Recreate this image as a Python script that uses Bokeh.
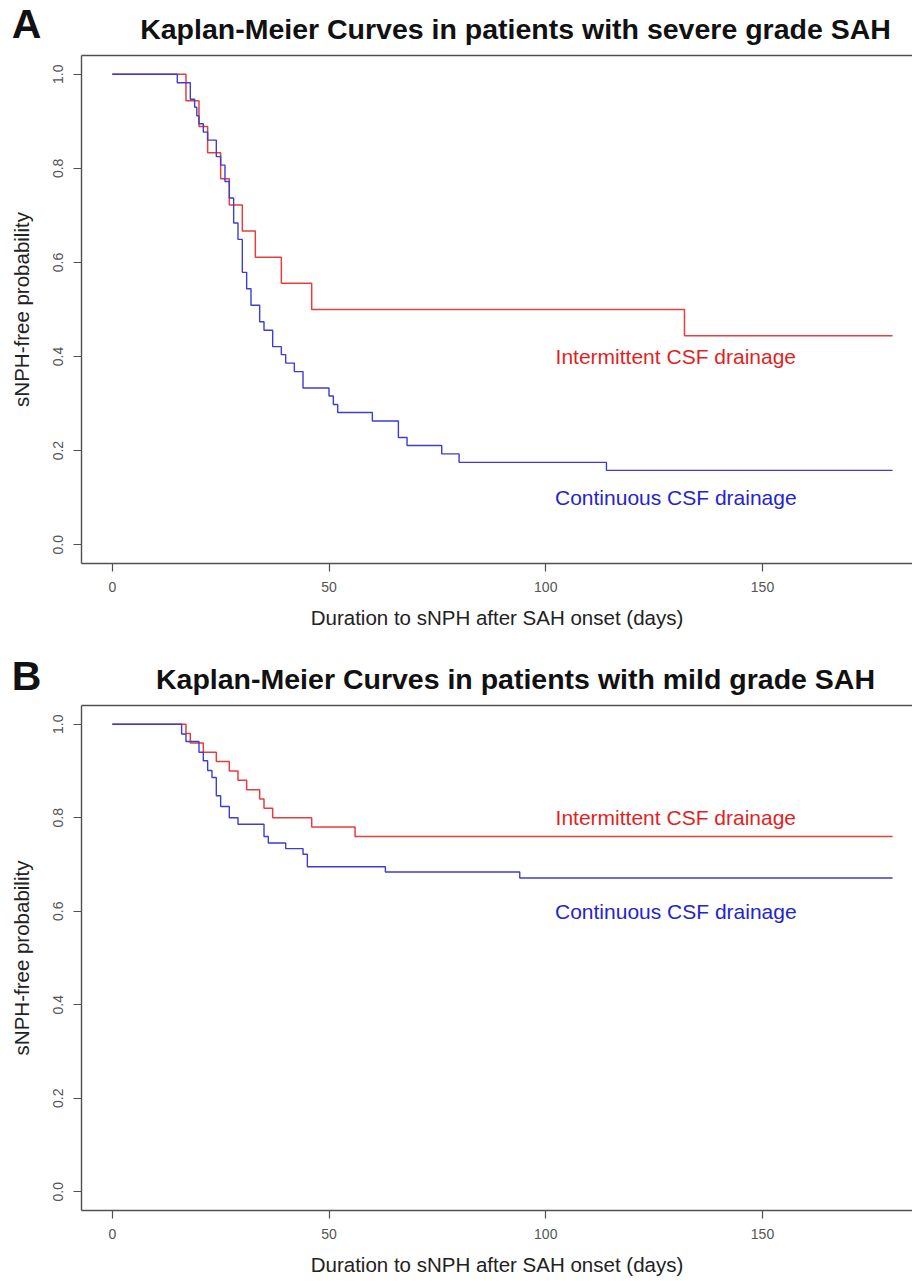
from bokeh.plotting import figure
from bokeh.models import Label, LinearAxis, FixedTicker, Range1d, PrintfTickFormatter
from bokeh.layouts import column
from bokeh.embed import file_html
from bokeh.resources import INLINE

# ---------------- data ----------------
# Panel A: severe grade SAH
a_int_days = [0, 17, 20, 22, 25, 27, 30, 33, 39, 46, 132, 180]
a_int_surv = [1.0, 0.944, 0.889, 0.833, 0.778, 0.722, 0.667, 0.611, 0.556, 0.500, 0.444, 0.444]

a_con_days = [0, 15, 18, 19, 19.5, 20, 21, 22, 24, 25, 26, 27, 28, 29, 30, 31, 32, 34, 35, 37,
              39, 40, 42, 44, 50, 51, 52, 60, 66, 68, 76, 80, 114, 180]
a_con_surv = [1.0, 0.982, 0.947, 0.930, 0.912, 0.895, 0.877, 0.860, 0.825, 0.807, 0.772, 0.737,
              0.684, 0.649, 0.579, 0.544, 0.509, 0.474, 0.456, 0.421, 0.404, 0.386, 0.368,
              0.333, 0.316, 0.298, 0.281, 0.263, 0.228, 0.211, 0.193, 0.175, 0.158, 0.158]

# Panel B: mild grade SAH
b_int_days = [0, 17, 18, 21, 24, 27, 29, 31, 34, 35, 37, 46, 56, 180]
b_int_surv = [1.0, 0.98, 0.96, 0.94, 0.92, 0.90, 0.88, 0.86, 0.84, 0.82, 0.80, 0.78, 0.76, 0.76]

b_con_days = [0, 16, 17, 20, 21, 22, 23, 24, 25, 27, 29, 35, 36, 40, 44, 45, 63, 94, 180]
b_con_surv = [1.0, 0.979, 0.963, 0.940, 0.922, 0.901, 0.886, 0.847, 0.824, 0.800, 0.786,
              0.760, 0.746, 0.734, 0.722, 0.695, 0.684, 0.671, 0.671]

x_ticks = [0, 50, 100, 150]
y_ticks = [0.0, 0.2, 0.4, 0.6, 0.8, 1.0]

panel_letters = ["A", "B"]
panel_titles = ["Kaplan-Meier Curves in patients with severe grade SAH",
                "Kaplan-Meier Curves in patients with mild grade SAH"]
x_title = "Duration to sNPH after SAH onset (days)"
y_title = "sNPH-free probability"
series_names = ["Intermittent CSF drainage", "Continuous CSF drainage"]
label_y_a = [0.40, 0.10]
label_y_b = [0.80, 0.60]

FONT = "Liberation Sans"
RED_LINE = "#e53e3e"
BLUE_LINE = "#3d3dd4"
RED_TEXT = "#e21f1f"
BLUE_TEXT = "#2424cf"
AX = "#505050"
W = 912


def make_header(letter, title, height, letter_y, title_y):
    h = figure(width=W, height=height, output_backend="svg", toolbar_location=None,
               x_range=Range1d(0, W), y_range=Range1d(height, 0),
               x_axis_type=None, y_axis_type=None,
               min_border=0, min_border_left=0, min_border_right=0,
               min_border_top=0, min_border_bottom=0,
               background_fill_color="white", border_fill_color="white")
    h.frame_align = False
    h.outline_line_color = None
    h.grid.visible = False
    h.add_layout(Label(x=26, y=letter_y, text=letter, text_color="#111111",
                       text_font=FONT, text_font_style="bold", text_font_size="41px",
                       text_align="center", text_baseline="middle"))
    h.add_layout(Label(x=515, y=title_y, text=title, text_color="#111111",
                       text_font=FONT, text_font_style="bold", text_font_size="28.5px",
                       text_align="center", text_baseline="middle"))
    return h


def make_panel(int_d, int_s, con_d, con_s, lab_y, height, btop, bbot):
    p = figure(width=W, height=height, output_backend="svg", toolbar_location=None,
               x_range=Range1d(-7.1, 184.6), y_range=Range1d(-0.04, 1.04),
               min_border_left=81, min_border_right=0,
               min_border_top=btop, min_border_bottom=bbot,
               background_fill_color="white", border_fill_color="white")
    p.frame_align = False
    p.outline_line_color = None
    p.grid.visible = False

    xax = p.xaxis[0]
    yax = p.yaxis[0]

    top = LinearAxis(major_tick_line_color=None, minor_tick_line_color=None,
                     major_label_text_font_size="0px", major_label_standoff=0,
                     major_tick_out=0, major_tick_in=0,
                     axis_line_color=AX, axis_line_width=1.4)
    top.ticker = FixedTicker(ticks=[])
    p.add_layout(top, "above")

    for ax in (xax, yax):
        ax.axis_line_color = AX
        ax.axis_line_width = 1.4
        ax.major_tick_line_color = AX
        ax.major_tick_line_width = 1.2
        ax.major_tick_in = 0
        ax.major_tick_out = 8
        ax.minor_tick_line_color = None
        ax.major_label_text_font = FONT
        ax.major_label_text_font_size = "14px"
        ax.major_label_text_color = "#555555"
        ax.axis_label_text_font = FONT
        ax.axis_label_text_font_size = "20.5px"
        ax.axis_label_text_font_style = "normal"
        ax.axis_label_text_color = "#222222"

    xax.ticker = FixedTicker(ticks=x_ticks)
    xax.major_label_standoff = 10
    xax.axis_label = x_title
    xax.axis_label_standoff = 11

    yax.ticker = FixedTicker(ticks=y_ticks)
    yax.formatter = PrintfTickFormatter(format="%.1f")
    yax.major_label_orientation = "vertical"
    yax.major_label_standoff = 10
    yax.axis_label = y_title
    yax.axis_label_standoff = 18

    p.step(int_d, int_s, mode="after", line_color=RED_LINE, line_width=1.5)
    p.step(con_d, con_s, mode="after", line_color=BLUE_LINE, line_width=1.4)

    p.add_layout(Label(x=130, y=lab_y[0], text=series_names[0], text_color=RED_TEXT,
                       text_font=FONT, text_font_size="21px",
                       text_align="center", text_baseline="middle"))
    p.add_layout(Label(x=130, y=lab_y[1], text=series_names[1], text_color=BLUE_TEXT,
                       text_font=FONT, text_font_size="21px",
                       text_align="center", text_baseline="middle"))
    return p


ha = make_header(panel_letters[0], panel_titles[0], 47, 23, 28)
pa = make_panel(a_int_days, a_int_surv, a_con_days, a_con_surv, label_y_a, 593, 8, 77)
hb = make_header(panel_letters[1], panel_titles[1], 59, 35, 38)
pb = make_panel(b_int_days, b_int_surv, b_con_days, b_con_surv, label_y_b, 579, 6, 66)

layout = column(ha, pa, hb, pb, spacing=0)
open("out.html", "w").write(file_html(layout, INLINE))
